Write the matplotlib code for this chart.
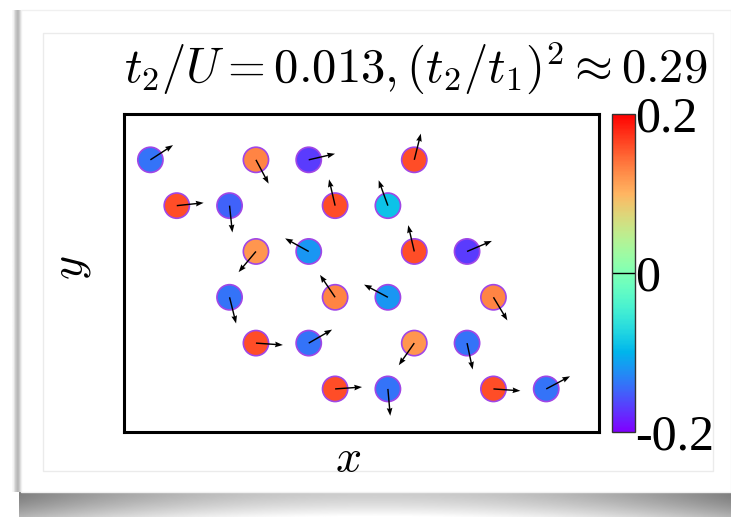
import numpy as np
import matplotlib
matplotlib.use("Agg")
import matplotlib.pyplot as plt
from matplotlib.patches import Rectangle

plt.rcParams["mathtext.fontset"] = "cm"
plt.rcParams["font.family"] = "serif"
plt.rcParams["font.serif"] = ["Liberation Serif", "DejaVu Serif"]

# lattice sites: column (in half lattice spacings) and row (top row = 5)
site_x = [0, 4, 6, 10,
          1, 3, 7, 9,
          4, 6, 10, 12,
          3, 7, 9, 13,
          4, 6, 10, 12,
          7, 9, 13, 15]
site_row = [5, 5, 5, 5,
            4, 4, 4, 4,
            3, 3, 3, 3,
            2, 2, 2, 2,
            1, 1, 1, 1,
            0, 0, 0, 0]
# out-of-plane component (colour)
spin_z = [-0.14, 0.13, -0.17, 0.16,
          0.16, -0.15, 0.16, -0.09,
          0.12, -0.12, 0.16, -0.17,
          -0.14, 0.13, -0.12, 0.13,
          0.16, -0.14, 0.12, -0.14,
          0.16, -0.14, 0.16, -0.14]
# in-plane direction of the arrows, degrees
spin_angle = [33, -62, 13, 76,
              6, -84, 103, 110,
              230, 151, 103, 23,
              -76, 124, 152, -59,
              -4, 30, 235, -78,
              4, -85, -4, 28]
cbar_ticks = [-0.2, 0, 0.2]
cbar_labels = ["-0.2", "0", "0.2"]

W, H = 731, 517
fig = plt.figure(figsize=(W / 100, H / 100), dpi=100)

# card background with shadow
bg = fig.add_axes([0, 0, 1, 1], zorder=-10)
bg.set_xlim(0, W)
bg.set_ylim(H, 0)
bg.axis("off")
xx = np.linspace(-1, 1, 200)
yy = np.linspace(0, 1, 20)
band = 0.5 + 0.3 * (1 - xx[None, :] ** 2) + 0.2 * yy[:, None] ** 1.5
bg.imshow(band, cmap="gray", vmin=0, vmax=1, extent=[19, W, H, 492],
          aspect="auto", interpolation="bilinear")
side = np.array([[0.97, 0.8, 0.7, 0.85, 1.0]])
bg.imshow(side, cmap="gray", vmin=0, vmax=1, extent=[12, 24, 492, 10],
          aspect="auto", interpolation="bilinear")
bg.add_patch(Rectangle((21, 10), W - 21, 482, facecolor="white",
                       edgecolor="#f0f0f0", lw=1))
bg.add_patch(Rectangle((43, 33), 670, 438, facecolor="none",
                       edgecolor="#ebebeb", lw=1))

ax = fig.add_axes([124 / W, 1 - 432 / H, 475 / W, 318 / H])
cax = fig.add_axes([612 / W, 1 - 432 / H, 23 / W, 318 / H])

sc = ax.scatter(site_x, site_row, c=spin_z, cmap="rainbow", vmin=-0.2, vmax=0.2,
                s=330, edgecolors="#a046e6", linewidths=1.2, zorder=2)
ang = np.deg2rad(spin_angle)
ax.quiver(site_x, site_row, np.cos(ang), np.sin(ang), angles="uv",
          scale_units="inches", scale=1 / 0.27, pivot="tail", color="black",
          width=0.003, headwidth=4, headlength=5.5, headaxislength=5,
          zorder=3)

ax.set_xlim(-1.0, 17.0)
ax.set_ylim(-0.94, 6.0)
ax.set_xticks([])
ax.set_yticks([])
for sp in ax.spines.values():
    sp.set_linewidth(2.2)

cb = fig.colorbar(sc, cax=cax, ticks=cbar_ticks)
cb.ax.set_yticklabels([])
cb.ax.tick_params(length=0)
for t, lab in zip(cbar_ticks, cbar_labels):
    cb.ax.text(1.0, t, lab, transform=cb.ax.get_yaxis_transform(),
               family=["Liberation Serif", "DejaVu Serif"], fontsize=36,
               ha="left", va="center_baseline")
cb.ax.axhline(0, color="black", lw=1)
cb.outline.set_linewidth(1)
cb.outline.set_edgecolor("#333333")

fig.text(416 / W, 1 - 68 / H, r"$t_2/U = 0.013, (t_2/t_1)^2 \approx 0.29$",
         fontsize=35, ha="center", va="center")
fig.text(348 / W, 1 - 460 / H, r"$x$", fontsize=33, ha="center", va="center")
fig.text(72 / W, 1 - 268 / H, r"$y$", fontsize=33, ha="center", va="center",
         rotation=90)

fig.savefig("out.png", dpi=100)
